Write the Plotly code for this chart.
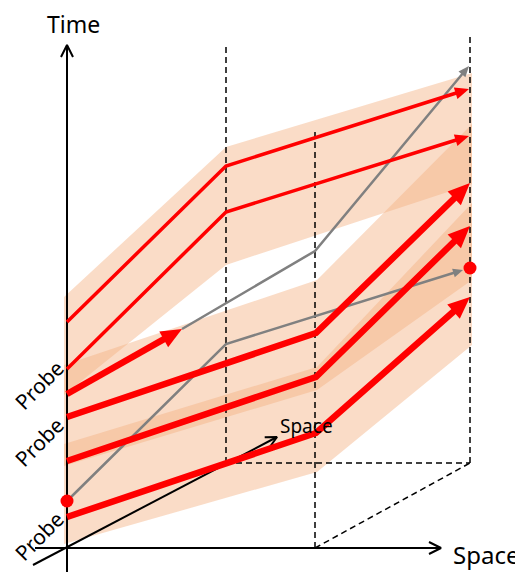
import math
import plotly.graph_objects as go

# ---- data (space = horizontal, time = vertical; origin at axis crossing) ----
thin_space = [0, 159, 402]
thin_time_1 = [226, 382, 459]
thin_time_2 = [179, 336, 412]

short_space = [0, 115]
short_time = [154, 219]

gray1_space = [115, 248, 402]
gray1_time = [219, 297, 482]

thick_space = [0, 249, 403]
thick_time_1 = [131, 215, 365]
thick_time_2 = [87, 171, 322]
thick_time_3 = [31, 115, 251]

gray2_space = [0, 159, 396]
gray2_time = [47, 204, 278]

dot_space = [0, 403]
dot_time = [47, 280]

band1_space = [-3, 159, 405]
band1_upper = [251, 401, 475]
band1_lower = [153, 283, 364]
band23_space = [-3, 250, 405]
band2_upper = [183, 268, 424]
band2_lower = [82, 158, 268]
band3_upper = [104, 181, 345]
band3_lower = [4, 76, 203]

probe_labels = ["Probe", "Probe", "Probe"]
probe_label_time = [163, 106, 12]

RED = "#FF0000"
GRAY = "#808080"
BAND = "rgba(244,177,131,0.45)"
FONT = "Noto Sans"

fig = go.Figure()


def add_band(xs, up, lo):
    fig.add_trace(go.Scatter(x=xs + xs[::-1] + [xs[0]], y=up + lo[::-1] + [up[0]],
                             mode="lines", fill="toself", fillcolor=BAND,
                             line=dict(width=0), hoverinfo="skip", showlegend=False))


add_band(band1_space, band1_upper, band1_lower)
add_band(band23_space, band2_upper, band2_lower)
add_band(band23_space, band3_upper, band3_lower)


def line(xs, ys, color, width, dash=None):
    fig.add_trace(go.Scatter(x=xs, y=ys, mode="lines",
                             line=dict(color=color, width=width, dash=dash),
                             hoverinfo="skip", showlegend=False))


# dashed box guides
DASH = "6px,4px"
line([159, 159], [85, 504], "black", 1.5, DASH)
line([248, 248], [0, 420], "black", 1.5, DASH)
line([403, 403], [85, 515], "black", 1.5, DASH)
line([159, 403], [85, 85], "black", 1.5, DASH)
line([248, 403], [0, 85], "black", 1.5, DASH)


def chevron(x0, y0, x1, y1, length=12, half=6):
    dx, dy = x1 - x0, y1 - y0
    n = math.hypot(dx, dy)
    ux, uy = dx / n, dy / n
    bx, by = x1 - ux * length, y1 - uy * length
    line([x0, x1], [y0, y1], "black", 2)
    line([bx - uy * half, x1, bx + uy * half], [by + ux * half, y1, by - ux * half], "black", 2)


# axes
chevron(0, -24, 0, 503)
chevron(-32, 0, 374, 0)
chevron(-34, -17, 210, 111, length=11, half=5.5)


def arrow_path(xs, ys, color, width, length, half):
    tx, ty = xs[-1], ys[-1]
    dx, dy = tx - xs[-2], ty - ys[-2]
    n = math.hypot(dx, dy)
    ux, uy = dx / n, dy / n
    sx, sy = tx - ux * length * 0.6, ty - uy * length * 0.6
    line(list(xs[:-1]) + [sx], list(ys[:-1]) + [sy], color, width)
    bx, by = tx - ux * length, ty - uy * length
    fig.add_trace(go.Scatter(
        x=[bx - uy * half, tx, bx + uy * half, bx - uy * half],
        y=[by + ux * half, ty, by - ux * half, by + ux * half],
        mode="lines", fill="toself", fillcolor=color, line=dict(width=0, color=color),
        hoverinfo="skip", showlegend=False))


arrow_path(gray1_space, gray1_time, GRAY, 2.5, 11, 4.5)
arrow_path(gray2_space, gray2_time, GRAY, 2.5, 10, 4.5)
arrow_path(thin_space, thin_time_1, RED, 3.5, 14, 6)
arrow_path(thin_space, thin_time_2, RED, 3.5, 14, 6)
arrow_path(short_space, short_time, RED, 6.5, 21, 9)
arrow_path(thick_space, thick_time_1, RED, 6.5, 22, 9.5)
arrow_path(thick_space, thick_time_2, RED, 6.5, 22, 9.5)
arrow_path(thick_space, thick_time_3, RED, 6.5, 22, 9.5)

fig.add_trace(go.Scatter(x=dot_space, y=dot_time, mode="markers",
                         marker=dict(color=RED, size=13), hoverinfo="skip", showlegend=False))

ann = []
ann.append(dict(x=6, y=524, text="Time", showarrow=False, borderpad=0,
                font=dict(size=23, color="black", family=FONT)))
ann.append(dict(x=385, y=-6, text="Space", showarrow=False, xanchor="left", borderpad=0,
                font=dict(size=24, color="black", family=FONT)))
ann.append(dict(x=211, y=122, text="Space", showarrow=False, xanchor="left",
                font=dict(size=19, color="black", family=FONT)))
for lab, t, xo in zip(probe_labels, probe_label_time, [-28, -28, -28]):
    ann.append(dict(x=xo, y=t, text=lab, showarrow=False, textangle=-45, borderpad=0,
                    font=dict(size=21, color="black", family=FONT)))

# page body keeps an 8px margin, so the figure is 8px smaller each way
fig.update_layout(
    width=515, height=564, autosize=False,
    margin=dict(l=0, r=0, t=0, b=0),
    paper_bgcolor="white", plot_bgcolor="white",
    xaxis=dict(range=[-59, 456], visible=False, fixedrange=True),
    yaxis=dict(range=[-24, 540], visible=False, fixedrange=True),
    annotations=ann, showlegend=False,
)

fig.write_html("out.html")
